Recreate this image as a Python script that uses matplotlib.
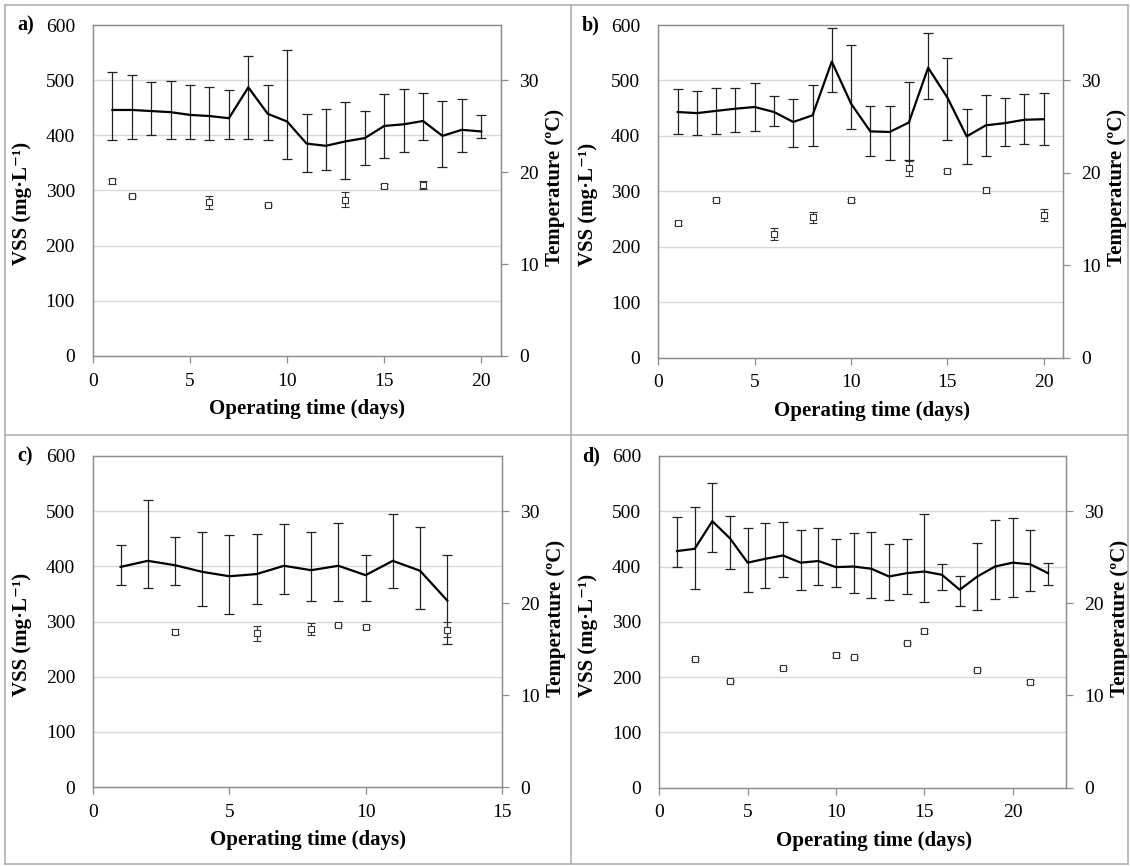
import matplotlib
matplotlib.use('Agg')
import matplotlib.pyplot as plt
from matplotlib.lines import Line2D
import numpy as np

plt.rcParams['font.family'] = ['Liberation Serif', 'DejaVu Serif']

# ---- Panel a) ----
days_a = list(range(1, 21))
vss_a = [446, 446, 444, 442, 437, 435, 431, 487, 439, 425, 385, 381, 389, 395, 417, 420, 426, 399, 410, 407]
vss_a_hi = [514, 509, 496, 498, 491, 488, 483, 544, 491, 554, 439, 448, 461, 445, 475, 484, 476, 463, 465, 436]
vss_a_lo = [391, 394, 400, 394, 393, 392, 394, 393, 391, 358, 333, 338, 320, 346, 359, 370, 391, 342, 370, 396]
tdays_a = [1, 2, 6, 9, 13, 15, 17]
temp_a = [19.0, 17.4, 16.7, 16.4, 17.0, 18.5, 18.6]
temp_a_err = [0.3, 0.1, 0.7, 0.1, 0.8, 0.2, 0.4]

# ---- Panel b) ----
days_b = list(range(1, 21))
vss_b = [443, 441, 445, 449, 452, 443, 425, 437, 534, 458, 408, 407, 424, 523, 469, 399, 419, 423, 429, 430]
vss_b_hi = [484, 481, 486, 486, 496, 471, 467, 491, 594, 564, 454, 454, 497, 586, 541, 449, 474, 469, 475, 477]
vss_b_lo = [404, 401, 403, 407, 409, 417, 379, 381, 479, 413, 364, 357, 356, 467, 393, 350, 364, 381, 385, 384]
tdays_b = [1, 3, 6, 8, 10, 13, 15, 17, 20]
temp_b = [14.6, 17.1, 13.4, 15.2, 17.0, 20.5, 20.2, 18.1, 15.4]
temp_b_err = [0.2, 0.2, 0.65, 0.6, 0.15, 0.8, 0.2, 0.3, 0.65]

# ---- Panel c) ----
days_c = list(range(1, 14))
vss_c = [399, 410, 402, 390, 382, 386, 401, 393, 401, 384, 410, 392, 338]
vss_c_hi = [438, 521, 454, 463, 456, 458, 476, 462, 478, 421, 495, 472, 421]
vss_c_lo = [366, 360, 366, 329, 314, 331, 349, 338, 338, 337, 360, 323, 260]
tdays_c = [3, 6, 8, 9, 10, 13]
temp_c = [16.9, 16.7, 17.2, 17.6, 17.4, 17.1]
temp_c_err = [0.3, 0.8, 0.65, 0.1, 0.2, 0.8]

# ---- Panel d) ----
days_d = list(range(1, 23))
vss_d = [428, 432, 482, 451, 407, 414, 420, 407, 410, 399, 400, 396, 382, 388, 391, 385, 358, 382, 400, 407, 404, 388]
vss_d_hi = [490, 508, 551, 492, 470, 478, 481, 467, 470, 450, 460, 462, 440, 449, 495, 405, 383, 443, 485, 487, 467, 406]
vss_d_lo = [399, 360, 427, 396, 354, 361, 381, 357, 367, 363, 353, 343, 339, 350, 336, 358, 329, 321, 341, 345, 356, 366]
tdays_d = [2, 4, 7, 10, 11, 14, 15, 18, 21]
temp_d = [14.0, 11.6, 13.0, 14.4, 14.2, 15.7, 17.0, 12.8, 11.5]
temp_d_err = [0.1, 0.1, 0.1, 0.2, 0.1, 0.1, 0.2, 0.1, 0.2]

W, H = 1130, 866
fig = plt.figure(figsize=(W / 100, H / 100), dpi=100)

spine_col = '#8c8c8c'
grid_col = '#d9d9d9'


def px_axes(left, right, top, bottom):
    # axes rectangle from pixel edges
    return fig.add_axes([left / W, 1 - bottom / H, (right - left) / W, (bottom - top) / H])


def draw_panel(ax, days, vss, hi, lo, tdays, temp, terr, xmax, xlab_x):
    vss = np.array(vss)
    yerr = [vss - np.array(lo), np.array(hi) - vss]
    for v in range(100, 600, 100):
        ax.axhline(v, color=grid_col, lw=1.0, zorder=0)
    ax.errorbar(days, vss, yerr=yerr, color='black', lw=1.6, ecolor='#222222',
                elinewidth=0.9, capsize=3.4, capthick=0.9, zorder=3)
    ax.set_xlim(0, xmax)
    ax.set_ylim(0, 600)
    ax.set_xticks(range(0, xmax + 1, 5))
    ax.set_yticks(range(0, 700, 100))
    ax.tick_params(axis='y', length=0, pad=13, labelsize=14)
    ax.tick_params(axis='x', length=5, width=0.9, color=spine_col, pad=7, labelsize=14)
    for s in ax.spines.values():
        s.set_color(spine_col)
        s.set_linewidth(0.9)
    ax.set_ylabel('VSS (mg·L⁻¹)', fontsize=15, fontweight='bold')
    ax.yaxis.set_label_coords(-0.15, 0.46)
    ax.set_xlabel('Operating time (days)', fontsize=15, fontweight='bold')
    ax.xaxis.set_label_coords(xlab_x, -0.13)

    ax2 = ax.twinx()
    ax2.errorbar(tdays, temp, yerr=terr, fmt='s', ms=5, mfc='white', mec='#333333',
                 mew=0.8, ecolor='#333333', elinewidth=0.8, capsize=3, capthick=0.8, zorder=4)
    ax2.set_ylim(0, 36)
    ax2.set_yticks([0, 10, 20, 30])
    ax2.tick_params(axis='y', length=5, width=0.9, color=spine_col, pad=8, labelsize=14)
    for s in ax2.spines.values():
        s.set_color(spine_col)
        s.set_linewidth(0.9)
    ax2.set_ylabel('Temperature (ºC)', fontsize=15, fontweight='bold')
    ax2.yaxis.set_label_coords(1.108, 0.51)
    return ax2


ax_a = px_axes(93, 500.7, 25, 356)
draw_panel(ax_a, days_a, vss_a, vss_a_hi, vss_a_lo, tdays_a, temp_a, temp_a_err, 21, 0.525)

ax_b = px_axes(658.4, 1063, 25, 357.5)
draw_panel(ax_b, days_b, vss_b, vss_b_hi, vss_b_lo, tdays_b, temp_b, temp_b_err, 21, 0.528)

ax_c = px_axes(93.4, 501.7, 456, 787)
draw_panel(ax_c, days_c, vss_c, vss_c_hi, vss_c_lo, tdays_c, temp_c, temp_c_err, 15, 0.525)

ax_d = px_axes(659.3, 1065.7, 456, 787.6)
draw_panel(ax_d, days_d, vss_d, vss_d_hi, vss_d_lo, tdays_d, temp_d, temp_d_err, 23, 0.528)

# panel letters
for lab, x, y in [('a)', 17, 25), ('b)', 582, 25), ('c)', 17, 456), ('d)', 582, 456)]:
    fig.text(x / W, 1 - y / H, lab, fontsize=14.5, fontweight='bold', ha='left', va='center')

# light frame around the four panels
frame_col = '#b0b0b0'
for xs, ys in [([5, 1128], [5, 5]), ([5, 1128], [434.5, 434.5]), ([5, 1128], [864, 864]),
               ([5, 5], [5, 864]), ([570.5, 570.5], [5, 864]), ([1128, 1128], [5, 864])]:
    fig.add_artist(Line2D([x / W for x in xs], [1 - y / H for y in ys], color=frame_col, lw=1.2))

fig.savefig('out.png', dpi=100)
